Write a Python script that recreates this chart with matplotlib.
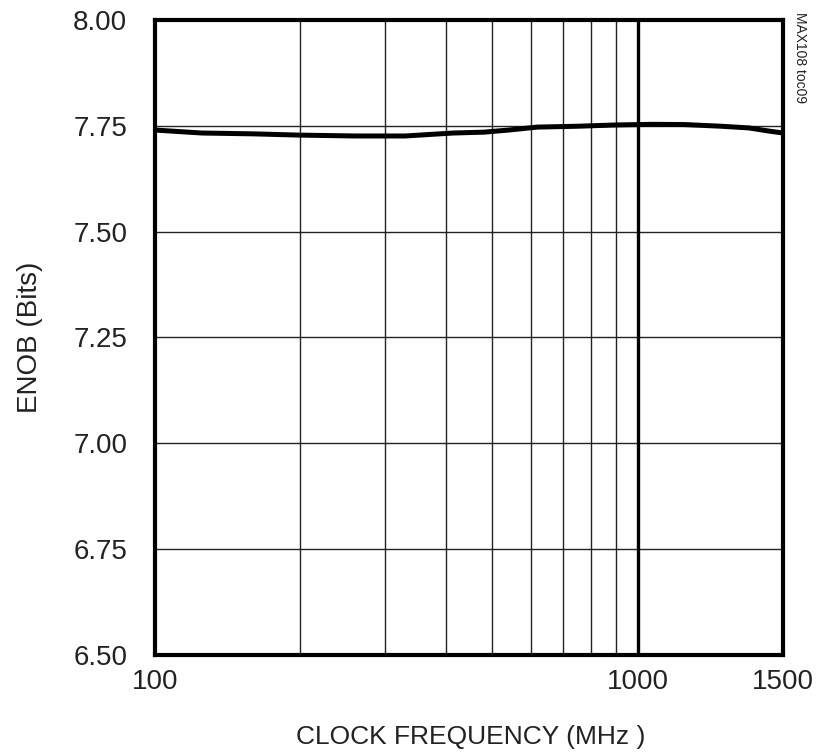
import matplotlib.pyplot as plt
import numpy as np

plt.rcParams['font.family'] = ['Liberation Sans', 'DejaVu Sans']

# ENOB vs clock frequency
freq = [100, 125, 160, 200, 260, 330, 415, 480, 540, 620, 750, 900,
        1070, 1250, 1490, 1700, 1860, 2000]
enob = [7.740, 7.733, 7.731, 7.728, 7.726, 7.726, 7.733, 7.735, 7.740, 7.747,
        7.749, 7.752, 7.7535, 7.753, 7.749, 7.745, 7.738, 7.733]

y_ticks = [6.50, 6.75, 7.00, 7.25, 7.50, 7.75, 8.00]
x_grid = [200, 300, 400, 500, 600, 700, 800, 900]
x_ticks = [100, 1000, 2000]
x_tick_labels = ['100', '1000', '1500']

fig = plt.figure(figsize=(8.36, 7.54), dpi=100)
ax = fig.add_axes([0.1854, 0.1313, 0.7512, 0.8422])

ax.set_xscale('log')
ax.set_xlim(100, 2000)
ax.set_ylim(6.5, 8.0)

for y in y_ticks[1:-1]:
    ax.axhline(y, color='#222222', lw=1.0, zorder=1)
for x in x_grid:
    ax.axvline(x, color='#222222', lw=1.0, zorder=1)
ax.axvline(1000, color='black', lw=2.4, zorder=1)

ax.plot(freq, enob, color='black', lw=3.6, zorder=3, solid_capstyle='butt')

ax.set_xticks(x_ticks)
ax.set_xticklabels(x_tick_labels)
ax.xaxis.set_minor_locator(plt.NullLocator())
ax.set_yticks(y_ticks)
ax.set_yticklabels(['%.2f' % v for v in y_ticks])
ax.tick_params(length=0, labelsize=20, colors='#222222')
ax.tick_params(axis='y', pad=20)
ax.tick_params(axis='x', pad=10)

for s in ax.spines.values():
    s.set_linewidth(3)

ax.set_xlabel('CLOCK FREQUENCY (MHz )', fontsize=19, color='#222222', va='center')
ax.xaxis.set_label_coords(0.503, -0.129)
ax.set_ylabel('ENOB (Bits)', fontsize=20, color='#222222', va='center')
ax.yaxis.set_label_coords(-0.199, 0.5)

fig.text(0.957, 0.984, 'MAX108 toc09', rotation=-90, fontsize=10,
         ha='center', va='top', color='#222222')

plt.savefig('out.png', dpi=100)
